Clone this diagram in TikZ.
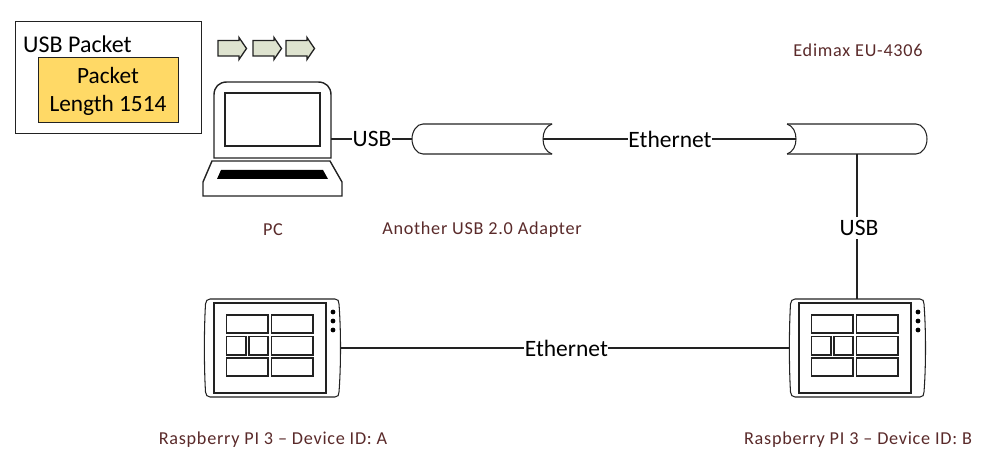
\documentclass[tikz,border=0pt]{standalone}
\usepackage{fontspec}
\setmainfont{Carlito}
\newfontfamily\spaced[LetterSpace=4]{Carlito}
\definecolor{lab}{HTML}{5A2A2A}
\definecolor{pkt}{HTML}{FFD966}
\definecolor{arr}{HTML}{DEE3CF}
\definecolor{lin}{HTML}{222222}
\tikzset{
  ln/.style={draw=lin,line width=1.05pt},
  thick line/.style={draw=lin,line width=1.4pt},
  anchorbox/.style={inner sep=0pt,outer sep=0pt,minimum width=#1,rectangle},
  wire/.style={draw=lin,line width=1.1pt},
  wlabel/.style={font=\fontsize{23.5}{26}\selectfont,fill=white,inner sep=0.5pt,text=black},
  caption/.style={font=\spaced\fontsize{18.2}{20}\selectfont,text=lab},
  pktarrow/.style={draw=lin,line width=1.3pt,fill=arr,line join=miter},
  cell/.style={draw=lin,line width=1.05pt,fill=white}
}
\newcommand{\pktarr}[1]{\draw[pktarrow] (#1,40.5) -- ++(21,0) -- ++(0,-3) -- ++(7.5,11) -- ++(-7.5,11) -- ++(0,-3.5) -- ++(-21,0) -- cycle;}
\newcommand{\tablet}[1]{
\begin{scope}[xshift=#1 pt]
\draw[ln] (210,299) -- (335,299) .. controls (338,299) and (339,301) .. (339,304)
  .. controls (341,330) and (341,366) .. (339,392) .. controls (339,395) and (338,397) .. (335,397)
  -- (210,397) .. controls (207,397) and (206,395) .. (205.5,392) .. controls (204,366) and (204,330) .. (205.5,304)
  .. controls (206,301) and (207,299) .. (210,299) -- cycle;
\draw[ln] (214,303) rectangle (326,393);
\draw[cell] (226.5,315) rectangle (268,333);
\draw[cell] (271.5,315) rectangle (313,333);
\draw[cell] (226.5,336.5) rectangle (246,355);
\draw[cell] (249,336.5) rectangle (268,355);
\draw[cell] (271.5,336.5) rectangle (313,355);
\draw[cell] (226.5,358) rectangle (268,376);
\draw[cell] (271.5,358) rectangle (313,376);
\fill[black] (333,312) circle (2.4) (333,321) circle (2.4) (333,330) circle (2.4);
\end{scope}}
\begin{document}
\begin{tikzpicture}[x=1pt,y=-1pt]
\useasboundingbox (0,0) rectangle (996,465);
% packet boxes
\node[draw=lin,line width=1.4pt,minimum width=186pt,minimum height=112pt,inner sep=0pt,anchor=north west] (usbbox) at (15,21) {};
\node[font=\fontsize{24}{24}\selectfont,anchor=west,inner sep=0pt] (usbtext) at (23,44) {USB Packet};
\node[draw=lin,line width=1.3pt,fill=pkt,minimum width=140pt,minimum height=65pt,inner sep=0pt,anchor=north west] (pktbox) at (38,57) {};
\node[font=\fontsize{23.3}{28}\selectfont,align=center,inner sep=0pt] (pkttext) at (108,91) {Packet\\Length 1514};
% little arrows
\pktarr{218}\pktarr{253}\pktarr{286}
% laptop
\node[anchorbox=117pt,minimum height=76pt,anchor=north west] (lap) at (214,82) {};
\draw[thick line] (214,158) -- (214,95) .. controls (214,87) and (219,82) .. (227,82) -- (318,82) .. controls (326,82) and (331,87) .. (331,95) -- (331,158) -- cycle;
\draw[ln,line width=1.25pt] (225,93) rectangle (320,146);
\draw[thick line,line join=miter] (212,161) -- (330,161) -- (342,182) -- (342,196) -- (203,196) -- (203,182) -- cycle;
\fill[black] (221,170) -- (323,170) -- (328,179) -- (217,179) -- cycle;
% cables
\node[anchorbox=140pt,minimum height=30pt,anchor=north west] (cabA) at (412,124) {};
\node[anchorbox=140pt,minimum height=30pt,anchor=north west] (cabB) at (787,124) {};
\draw[ln] (552,124) -- (423,124) .. controls (417,124) and (412,131) .. (412,139) .. controls (412,147) and (417,154) .. (423,154) -- (552,154);
\draw[ln] (552,124) .. controls (546,126) and (543,132) .. (543,139) .. controls (543,146) and (546,152) .. (552,154);
\draw[ln] (787,124) -- (916,124) .. controls (922,124) and (927,131) .. (927,139) .. controls (927,147) and (922,154) .. (916,154) -- (787,154);
\draw[ln] (787,124) .. controls (793,126) and (796,132) .. (796,139) .. controls (796,146) and (793,152) .. (787,154);
% tablets
\node[anchorbox=135pt,minimum height=98pt,anchor=north west] (piA) at (205,299) {};
\node[anchorbox=135pt,minimum height=98pt,anchor=north west] (piB) at (790,299) {};
\tablet{0}\tablet{585}
% connectors
\coordinate (cabAin) at ([xshift=131pt]cabA.west);
\coordinate (cabBin) at ([xshift=9pt]cabB.west);
\coordinate (cabBout) at ([xshift=70pt]cabB.south west);
\coordinate (piBin) at (cabBout |- piB.north);
\draw[wire] (lap.east |- cabA.west) -- node[wlabel,xshift=0.5pt] (usbA) {USB} (cabA.west);
\draw[wire] (cabAin) -- node[wlabel,pos=0.5,xshift=0.5pt] (ethA) {Ethernet} (cabBin);
\draw[wire] (cabBout) -- node[wlabel,pos=0.51,xshift=2pt,inner ysep=3pt] (usbB) {USB} (piBin);
\coordinate (piAout) at (340,348);
\draw[wire] (piAout) -- node[wlabel,pos=0.503] (ethB) {Ethernet} (piB.west);
% captions
\node[caption] (capPC) at (273,230) {PC};
\node[caption] (capAd) at (482,230) {Another USB 2.0 Adapter};
\node[caption] (capEd) at (858,50) {Edimax EU-4306};
\node[caption] (capA) at (273,440) {Raspberry PI 3 – Device ID: A};
\node[caption] (capB) at (858,440) {Raspberry PI 3 – Device ID: B};
\end{tikzpicture}
\end{document}
